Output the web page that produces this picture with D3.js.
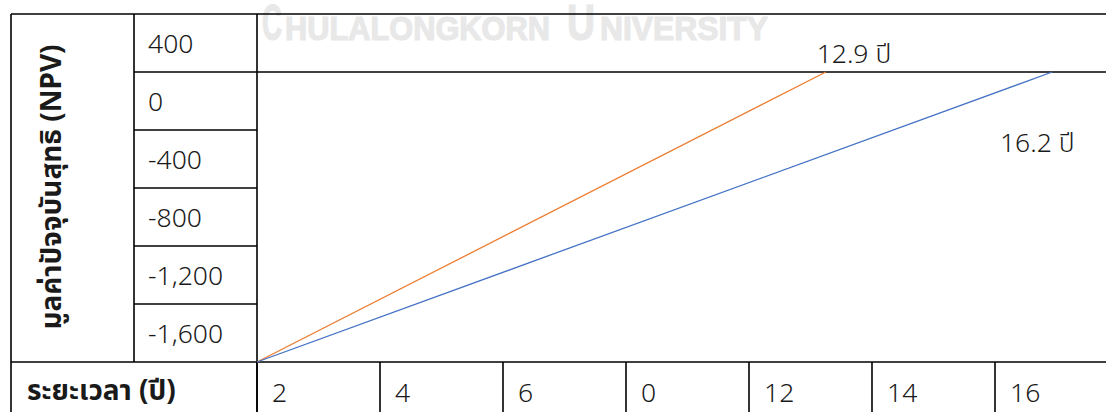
<!DOCTYPE html>
<html>
<head>
<meta charset="utf-8">
<script src="https://cdn.jsdelivr.net/npm/d3@7"></script>
<style>
  body { margin: 0; background: #fff; }
  svg { display: block; }
  text { font-family: "Noto Sans", "Noto Sans Thai", sans-serif; fill: #1a1a1a; }
  .light { font-weight: 300; }
</style>
</head>
<body>
<svg id="svg"></svg>
<script>
'use strict';

// ================================= data ======================================
var yTicks = [400, 0, -400, -800, -1200, -1600];
var xLabels = ["2", "4", "6", "0", "12", "14", "16"];   // as printed in the source
var yTitle = "มูลค่าปัจจุบันสุทธิ (NPV)";
var xTitle = "ระยะเวลา (ปี)";

// NPV lines: [year, npv]
var orangeLine = [[0, -2000], [9.25, 0]];
var blueLine = [[0, -2000], [12.93, 0]];

var notes = [
    { text: "12.9 ปี", x: 9.1, y: 62 },
    { text: "16.2 ปี", x: 12.08, y: -552 }
];

// watermark pieces (big caps / small caps)
var watermark = [
    { t: "C", x: 262, len: 20, size: 50 },
    { t: "HULALONGKORN", x: 285, len: 265, size: 34 },
    { t: "U", x: 567, len: 28, size: 50 },
    { t: "NIVERSITY", x: 600, len: 168, size: 34 }
];

// ================================= setup ======================================
var width = 1106;
var height = 412;
var svg = d3.select("#svg").attr("width", width).attr("height", height);

var x = d3.scaleLinear().domain([0, 14]).range([257, 1118]);
var y = d3.scaleLinear().domain([-2000, 400]).range([362, 14]);

var left = 11;
var colMid = 134;
// hyphen instead of unicode minus, like the source
var fmt = d3.formatLocale({ decimal: ".", thousands: ",", grouping: [3], currency: ["", ""], minus: "-" }).format(",");

svg.append("g")
    .selectAll("text")
    .data(watermark)
    .join("text")
    .attr("x", d => d.x)
    .attr("y", 40)
    .attr("textLength", d => d.len)
    .attr("lengthAdjust", "spacingAndGlyphs")
    .style("font-family", "'Liberation Sans Narrow', 'Liberation Sans', sans-serif")
    .style("font-weight", "bold")
    .style("font-size", d => d.size + "px")
    .style("fill", "#e8e8e8")
    .style("stroke", "#e8e8e8")
    .style("stroke-width", 1.2)
    .text(d => d.t);

// ================================= grid ======================================
var grid = svg.append("g")
    .attr("stroke", "#000")
    .attr("stroke-width", 1.6)
    .attr("fill", "none");

function hline(x1, x2, yy) {
    grid.append("line").attr("x1", x1).attr("x2", x2).attr("y1", yy).attr("y2", yy);
}
function vline(xx, y1, y2) {
    grid.append("line").attr("x1", xx).attr("x2", xx).attr("y1", y1).attr("y2", y2);
}

hline(left, width, y(400));
hline(colMid, width, y(0));
hline(left, width, y(-2000));
yTicks.slice(2).forEach(v => hline(colMid, x(0), y(v)));
vline(left, y(400), height);
vline(colMid, y(400), y(-2000));
vline(x(0), y(400), height);
xLabels.forEach((d, i) => vline(x(i * 2), y(-2000), height));

// ================================= labels ======================================
svg.append("g")
    .selectAll("text")
    .data(yTicks)
    .join("text")
    .attr("class", "light")
    .attr("x", colMid + 14)
    .attr("y", d => y(d) + 39)
    .style("font-size", "26.5px")
    .text(d => fmt(d));

svg.append("g")
    .selectAll("text")
    .data(xLabels)
    .join("text")
    .attr("class", "light")
    .attr("x", (d, i) => x(i * 2) + 15)
    .attr("y", 402)
    .style("font-size", "26.5px")
    .text(d => d);

svg.append("text")
    .attr("transform", "translate(61," + 187 + ") rotate(-90)")
    .attr("text-anchor", "middle")
    .style("font-size", "28px")
    .style("font-weight", "bold")
    .text(yTitle);

svg.append("text")
    .attr("x", 27)
    .attr("y", 400)
    .style("font-size", "28px")
    .style("font-weight", "bold")
    .text(xTitle);

// ================================= lines ======================================
var line = d3.line().x(d => x(d[0])).y(d => y(d[1]));

svg.append("path")
    .datum(orangeLine)
    .attr("d", line)
    .attr("fill", "none")
    .attr("stroke", "#ED7D31")
    .attr("stroke-width", 1.3);

svg.append("path")
    .datum(blueLine)
    .attr("d", line)
    .attr("fill", "none")
    .attr("stroke", "#4472C4")
    .attr("stroke-width", 1.3);

svg.append("g")
    .selectAll("text")
    .data(notes)
    .join("text")
    .attr("class", "light")
    .attr("x", d => x(d.x))
    .attr("y", d => y(d.y))
    .style("font-size", "26.5px")
    .text(d => d.text);
</script>
</body>
</html>
